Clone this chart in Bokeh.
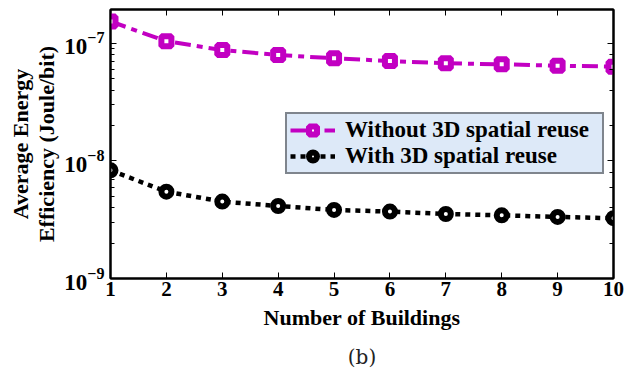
from bokeh.plotting import figure
from bokeh.models import (Range1d, LinearAxis, LogAxis, Legend, LegendItem,
                          FixedTicker, Title)
from bokeh.embed import file_html
from bokeh.resources import INLINE

buildings = [1, 2, 3, 4, 5, 6, 7, 8, 9, 10]
without_reuse = [1.54e-7, 1.045e-7, 8.78e-8, 7.97e-8, 7.47e-8, 7.09e-8,
                 6.78e-8, 6.65e-8, 6.47e-8, 6.35e-8]
with_reuse = [8.33e-9, 5.48e-9, 4.51e-9, 4.14e-9, 3.83e-9, 3.71e-9,
              3.54e-9, 3.45e-9, 3.34e-9, 3.26e-9]
x_ticks = [1, 2, 3, 4, 5, 6, 7, 8, 9, 10]

FONT = "'Liberation Serif'"
MAG = "#C200C2"

p = figure(width=634, height=378, y_axis_type="log",
           x_range=Range1d(1, 10), y_range=Range1d(1e-9, 1.945e-7),
           output_backend="svg", toolbar_location=None,
           min_border_left=110, min_border_right=21, min_border_top=9,
           min_border_bottom=98)
p.outline_line_color = "black"
p.outline_line_width = 2
p.xgrid.visible = False
p.ygrid.visible = False
p.background_fill_color = "white"
p.border_fill_color = "white"

# bottom axis
xa = p.xaxis[0]
xa.ticker = FixedTicker(ticks=x_ticks)
xa.major_tick_in = 6
xa.major_tick_out = 0
xa.minor_tick_in = 0
xa.minor_tick_out = 0
xa.axis_line_width = 2
xa.major_label_text_font = FONT
xa.major_label_text_font_style = "bold"
xa.major_label_text_font_size = "21px"
xa.major_label_text_color = "black"
xa.major_label_standoff = 3
xa.axis_label = "Number of Buildings"
xa.axis_label_text_font = FONT
xa.axis_label_text_font_style = "bold"
xa.axis_label_text_font_size = "22px"
xa.axis_label_text_color = "black"
xa.axis_label_standoff = 6

# left axis
ya = p.yaxis[0]
ya.ticker.num_minor_ticks = 10
ya.major_tick_in = 6
ya.major_tick_out = 0
ya.minor_tick_in = 4
ya.minor_tick_out = 0
ya.axis_line_width = 2
ya.major_label_text_font = FONT
ya.major_label_text_font_style = "bold"
ya.major_label_text_font_size = "23px"
ya.major_label_text_color = "black"
ya.major_label_standoff = 6
ya.axis_label = "Average Energy\nEfficiency (Joule/bit)"
ya.axis_label_text_font = FONT
ya.axis_label_text_font_style = "bold"
ya.axis_label_text_font_size = "22px"
ya.axis_label_text_color = "black"
ya.axis_label_text_line_height = 1.05
ya.axis_label_standoff = 2

# top and right axes (ticks only)
top = LinearAxis(ticker=FixedTicker(ticks=x_ticks), major_tick_in=6,
                 major_tick_out=0, minor_tick_in=0, minor_tick_out=0,
                 major_label_text_font_size="1px",
                 major_label_text_color=None, major_label_standoff=0,
                 axis_line_width=2)
p.add_layout(top, "above")
right = LogAxis(major_tick_in=6, major_tick_out=0, minor_tick_in=4,
                minor_tick_out=0, major_label_text_font_size="1px",
                major_label_text_color=None,
                major_label_standoff=0, axis_line_width=2)
p.add_layout(right, "right")

# series
l1 = p.line(buildings, without_reuse, line_color=MAG, line_width=4,
            line_dash="16 6 6 6")
m1 = p.scatter(buildings, without_reuse, marker="square", size=10,
               fill_color="white", line_color=MAG, line_width=6)
l2 = p.line(buildings, with_reuse, line_color="black", line_width=4.5,
            line_dash="5 5")
m2 = p.scatter(buildings, with_reuse, marker="circle", size=10,
               fill_color="white", line_color="black", line_width=6)

legend = Legend(items=[
    LegendItem(label="Without 3D spatial reuse", renderers=[l1, m1]),
    LegendItem(label="With 3D spatial reuse", renderers=[l2, m2]),
], location=(175, 104))
legend.background_fill_color = "#DDE9F8"
legend.background_fill_alpha = 1
legend.border_line_color = "#222222"
legend.border_line_width = 2
legend.label_text_font = FONT
legend.label_text_font_style = "bold"
legend.label_text_font_size = "23px"
legend.label_text_color = "black"
legend.label_height = 20
legend.glyph_width = 45
legend.glyph_height = 20
legend.label_standoff = 10
legend.label_width = 254
legend.padding = 3
legend.spacing = 0
legend.margin = 0
p.add_layout(legend, "center")

cap = Title(text="(b)", align="center", text_font="'DejaVu Serif'",
            text_font_style="normal", text_font_size="20px",
            text_color="#222222", standoff=20)
p.add_layout(cap, "below")

open("out.html", "w").write(file_html(p, INLINE))
